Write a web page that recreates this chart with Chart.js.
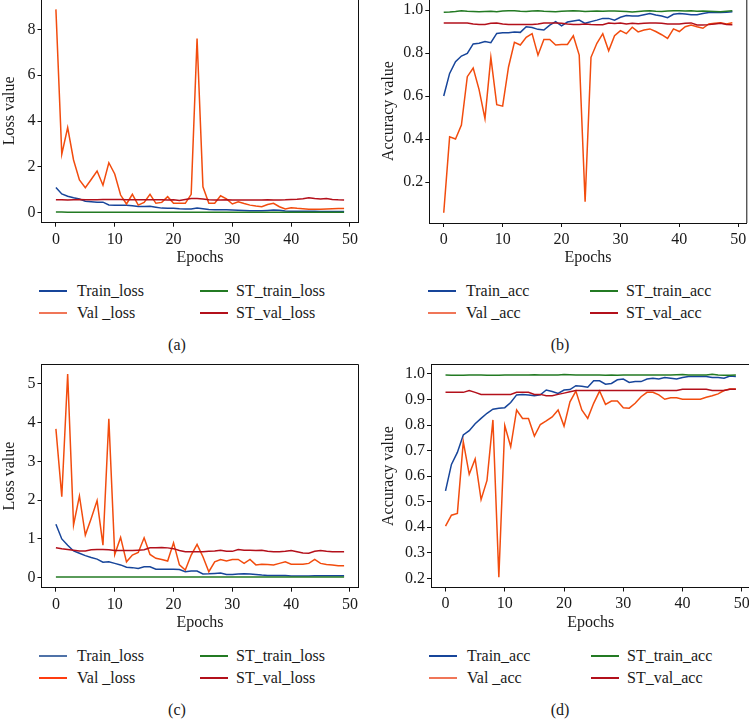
<!DOCTYPE html>
<html><head><meta charset="utf-8">
<script src="https://cdn.jsdelivr.net/npm/chart.js@4.4.1/dist/chart.umd.min.js"></script>
<style>
html,body{margin:0;padding:0;background:#fff;overflow:hidden;width:749px;height:719px;position:relative}
canvas{position:absolute}
.leg{position:absolute;font:16px "Liberation Serif",serif;color:#1a1a1a;white-space:nowrap;line-height:20px;height:20px;width:200px}
.leg .ln{position:absolute;left:0;top:9px;width:28px;height:2px}
.leg .tx{position:absolute;top:0}
.cap{position:absolute;font:16px "Liberation Serif",serif;color:#1a1a1a;transform:translate(-50%,-50%);white-space:nowrap}
</style></head><body>
<canvas id="ca" width="362" height="272" style="left:0px;top:-2px"></canvas>
<canvas id="cb" width="379" height="272" style="left:370px;top:-2px"></canvas>
<canvas id="cc" width="362" height="280" style="left:0px;top:355px"></canvas>
<canvas id="cd" width="384" height="280" style="left:370px;top:355px"></canvas>
<div id="legends"></div>
<script>
const epochs=[0,1,2,3,4,5,6,7,8,9,10,11,12,13,14,15,16,17,18,19,20,21,22,23,24,25,26,27,28,29,30,31,32,33,34,35,36,37,38,39,40,41,42,43,44,45,46,47,48,49];
const xTicks=[0,10,20,30,40,50];
const lossTicksA=[0,2,4,6,8];
const lossTicksC=[0,1,2,3,4,5];
const accTicksB=[0.2,0.4,0.6,0.8,1.0];
const accTicksD=[0.2,0.3,0.4,0.5,0.6,0.7,0.8,0.9,1.0];
const lossNames=['Train_loss','Val _loss','ST_train_loss','ST_val_loss'];
const accNames=['Train_acc','Val _acc','ST_train_acc','ST_val_acc'];
const captions=['(a)','(b)','(c)','(d)'];

// (a) loss, model 1
const aTrain=[1.10,0.82,0.72,0.65,0.60,0.50,0.48,0.46,0.46,0.34,0.33,0.33,0.32,0.30,0.27,0.27,0.28,0.24,0.20,0.19,0.19,0.17,0.16,0.16,0.20,0.17,0.14,0.13,0.13,0.13,0.12,0.11,0.10,0.09,0.08,0.08,0.10,0.12,0.11,0.07,0.06,0.06,0.06,0.06,0.06,0.05,0.05,0.05,0.05,0.05];
const aVal=[8.87,2.55,3.71,2.30,1.43,1.09,1.45,1.82,1.20,2.18,1.69,0.77,0.38,0.80,0.33,0.45,0.80,0.41,0.45,0.70,0.41,0.41,0.41,0.80,7.60,1.13,0.41,0.41,0.74,0.60,0.38,0.48,0.40,0.33,0.29,0.26,0.36,0.41,0.26,0.16,0.22,0.19,0.17,0.15,0.15,0.15,0.16,0.17,0.18,0.18];
const aStTrain=[0.03,0.03,0.02,0.02,0.02,0.02,0.02,0.02,0.02,0.02,0.02,0.02,0.02,0.02,0.02,0.02,0.02,0.02,0.02,0.02,0.02,0.02,0.02,0.02,0.02,0.02,0.02,0.02,0.02,0.02,0.02,0.02,0.02,0.02,0.02,0.02,0.02,0.02,0.02,0.02,0.02,0.02,0.02,0.02,0.02,0.02,0.02,0.02,0.02,0.02];
const aStVal=[0.57,0.57,0.55,0.57,0.58,0.57,0.57,0.56,0.58,0.58,0.58,0.58,0.57,0.57,0.56,0.57,0.56,0.57,0.56,0.55,0.56,0.53,0.58,0.62,0.62,0.60,0.57,0.55,0.55,0.56,0.55,0.55,0.55,0.55,0.55,0.55,0.56,0.55,0.55,0.56,0.58,0.59,0.61,0.65,0.62,0.60,0.62,0.58,0.56,0.55];

// (b) accuracy, model 1
const bTrain=[0.600,0.705,0.760,0.786,0.798,0.842,0.845,0.853,0.848,0.891,0.894,0.894,0.898,0.896,0.922,0.919,0.910,0.907,0.930,0.946,0.926,0.944,0.949,0.953,0.938,0.946,0.953,0.961,0.961,0.953,0.966,0.974,0.972,0.972,0.978,0.984,0.977,0.972,0.964,0.980,0.984,0.981,0.978,0.978,0.984,0.988,0.988,0.988,0.990,0.992];
const bVal=[0.057,0.410,0.400,0.465,0.690,0.730,0.630,0.495,0.780,0.560,0.553,0.735,0.850,0.837,0.873,0.890,0.790,0.863,0.863,0.837,0.840,0.840,0.880,0.790,0.108,0.780,0.845,0.890,0.810,0.880,0.904,0.890,0.920,0.898,0.907,0.912,0.900,0.885,0.868,0.912,0.900,0.922,0.930,0.922,0.915,0.935,0.938,0.941,0.935,0.941];
const bStTrain=[0.990,0.991,0.993,0.996,0.994,0.993,0.992,0.993,0.994,0.992,0.995,0.997,0.996,0.994,0.993,0.995,0.996,0.994,0.993,0.992,0.994,0.995,0.996,0.995,0.993,0.994,0.995,0.994,0.995,0.995,0.994,0.993,0.991,0.993,0.995,0.996,0.994,0.993,0.995,0.996,0.997,0.995,0.996,0.994,0.995,0.994,0.993,0.992,0.994,0.996];
const bStVal=[0.940,0.940,0.940,0.940,0.940,0.935,0.933,0.933,0.938,0.940,0.935,0.933,0.933,0.933,0.933,0.933,0.935,0.940,0.940,0.940,0.938,0.935,0.933,0.933,0.935,0.933,0.932,0.932,0.940,0.937,0.940,0.935,0.938,0.936,0.938,0.940,0.940,0.938,0.935,0.935,0.935,0.938,0.940,0.930,0.930,0.932,0.935,0.938,0.933,0.932];

// (c) loss, model 2
const cTrain=[1.38,1.00,0.84,0.69,0.63,0.57,0.52,0.48,0.40,0.41,0.37,0.33,0.27,0.26,0.24,0.28,0.28,0.22,0.22,0.22,0.22,0.21,0.155,0.17,0.17,0.095,0.10,0.11,0.12,0.085,0.085,0.095,0.10,0.095,0.085,0.07,0.06,0.06,0.06,0.06,0.045,0.045,0.045,0.045,0.05,0.05,0.05,0.05,0.05,0.05];
const cVal=[3.84,2.09,5.26,1.36,2.11,1.10,1.53,1.99,0.84,4.10,0.60,1.04,0.41,0.585,0.65,1.03,0.60,0.50,0.47,0.43,0.90,0.33,0.20,0.585,0.86,0.54,0.155,0.41,0.47,0.43,0.47,0.47,0.37,0.47,0.33,0.35,0.34,0.33,0.37,0.41,0.35,0.35,0.35,0.37,0.47,0.37,0.34,0.33,0.31,0.31];
const cStTrain=[0.02,0.02,0.02,0.02,0.02,0.02,0.02,0.02,0.02,0.02,0.02,0.02,0.02,0.02,0.02,0.02,0.02,0.02,0.02,0.02,0.02,0.02,0.02,0.02,0.02,0.02,0.02,0.02,0.02,0.02,0.02,0.02,0.02,0.02,0.02,0.02,0.02,0.02,0.02,0.02,0.02,0.02,0.02,0.02,0.02,0.02,0.02,0.02,0.02,0.02];
const cStVal=[0.775,0.75,0.73,0.71,0.69,0.69,0.72,0.73,0.73,0.72,0.70,0.70,0.70,0.70,0.71,0.72,0.77,0.77,0.78,0.77,0.75,0.70,0.67,0.67,0.67,0.67,0.68,0.69,0.71,0.68,0.68,0.73,0.71,0.71,0.70,0.71,0.68,0.67,0.67,0.68,0.70,0.67,0.64,0.63,0.68,0.70,0.68,0.67,0.67,0.67];

// (d) accuracy, model 2
const dTrain=[0.542,0.646,0.693,0.761,0.778,0.805,0.826,0.846,0.862,0.866,0.868,0.888,0.918,0.920,0.918,0.915,0.918,0.937,0.931,0.924,0.937,0.939,0.954,0.952,0.948,0.973,0.973,0.960,0.963,0.977,0.980,0.967,0.970,0.970,0.980,0.983,0.980,0.986,0.983,0.980,0.986,0.990,0.990,0.990,0.990,0.986,0.986,0.983,0.992,0.990];
const dVal=[0.404,0.447,0.454,0.735,0.607,0.667,0.508,0.583,0.820,0.204,0.798,0.715,0.859,0.826,0.826,0.757,0.802,0.816,0.832,0.859,0.796,0.891,0.933,0.859,0.826,0.885,0.933,0.881,0.894,0.894,0.868,0.866,0.885,0.911,0.928,0.928,0.918,0.901,0.907,0.907,0.901,0.901,0.901,0.901,0.909,0.915,0.922,0.935,0.941,0.941];
const dStTrain=[0.996,0.995,0.995,0.995,0.996,0.996,0.996,0.995,0.995,0.995,0.996,0.996,0.996,0.996,0.996,0.997,0.996,0.996,0.996,0.996,0.998,0.997,0.996,0.996,0.996,0.996,0.996,0.995,0.996,0.995,0.996,0.996,0.996,0.996,0.996,0.996,0.996,0.996,0.996,0.997,0.998,0.996,0.996,0.996,0.996,0.999,0.996,0.995,0.995,0.996];
const dStVal=[0.928,0.928,0.928,0.928,0.935,0.928,0.920,0.920,0.920,0.920,0.920,0.920,0.928,0.928,0.928,0.920,0.920,0.915,0.915,0.920,0.925,0.930,0.935,0.935,0.935,0.935,0.935,0.935,0.935,0.935,0.935,0.935,0.935,0.935,0.935,0.935,0.935,0.935,0.935,0.935,0.940,0.940,0.940,0.940,0.940,0.935,0.935,0.935,0.940,0.940];

const COL={train:'#17459a',val:'#f24c0e',stTrain:'#237a23',stVal:'#b3101b'};
const FONT='"Liberation Serif", "Times New Roman", serif';
Chart.defaults.font.family=FONT;
Chart.defaults.font.size=16;
Chart.defaults.color='#1a1a1a';

const frame={id:'frame',afterDatasetsDraw(c){
  const a=c.chartArea,ctx=c.ctx;ctx.save();ctx.strokeStyle='#111';ctx.lineWidth=1;
  ctx.beginPath();ctx.moveTo(a.left,a.top);ctx.lineTo(a.right,a.top);ctx.lineTo(a.right,a.bottom);ctx.stroke();ctx.restore();}};

function zeroPad(s){s.paddingTop=0;s.paddingBottom=0;s.paddingLeft=0;s.paddingRight=0;}

function panel(id,box,series,yTitle,yTicks,yMin,yMax,dec){
  const ds=[
    {data:series[3],borderColor:COL.stVal},
    {data:series[2],borderColor:COL.stTrain},
    {data:series[1],borderColor:COL.val},
    {data:series[0],borderColor:COL.train}
  ].map(d=>Object.assign(d,{borderWidth:1.5,pointRadius:0,fill:false,tension:0}));
  new Chart(document.getElementById(id),{
    type:'line',
    data:{labels:epochs,datasets:ds},
    plugins:[frame],
    options:{
      responsive:false,animation:false,devicePixelRatio:1,
      layout:{padding:{top:box.padTop,right:box.padRight,left:0,bottom:0}},
      plugins:{legend:{display:false},tooltip:{enabled:false}},
      scales:{
        x:{type:'linear',min:-2.45,max:51.45,
          afterBuildTicks:s=>{s.ticks=xTicks.map(v=>({value:v}));},
          afterFit:s=>{s.height=box.xH;zeroPad(s);},
          grid:{display:true,drawOnChartArea:false,drawTicks:true,tickLength:4,color:'#111'},
          border:{display:true,color:'#111',width:1},
          ticks:{padding:3,maxRotation:0,autoSkip:false,color:'#1a1a1a',callback:v=>String(v)},
          title:{display:true,text:'Epochs',color:'#1a1a1a',padding:{top:0,bottom:box.xTitlePad}}},
        y:{type:'linear',min:yMin,max:yMax,
          afterBuildTicks:s=>{s.ticks=yTicks.map(v=>({value:v}));},
          afterFit:s=>{s.width=box.yW;zeroPad(s);},
          grid:{display:true,drawOnChartArea:false,drawTicks:true,tickLength:4,color:'#111'},
          border:{display:true,color:'#111',width:1},
          ticks:{padding:2,autoSkip:false,color:'#1a1a1a',callback:v=>Number(v).toFixed(dec)},
          title:{display:true,text:yTitle,color:'#1a1a1a',padding:{top:box.yTitlePad,bottom:0}}}
      }
    }
  });
}

panel('ca',{padTop:1,padRight:3.5,xH:47.3,yW:41.5,xTitlePad:2.4,yTitlePad:0.4},
  [aTrain,aVal,aStTrain,aStVal],'Loss value',lossTicksA,-0.436,9.322,0);
panel('cb',{padTop:1,padRight:2.2,xH:47,yW:59.3,xTitlePad:2.4,yTitlePad:9.4},
  [bTrain,bVal,bStTrain,bStVal],'Accuracy value',accTicksB,0.0093,1.0512,1);
panel('cc',{padTop:9.5,padRight:3.5,xH:47.3,yW:41.5,xTitlePad:2.4,yTitlePad:0.4},
  [cTrain,cVal,cStTrain,cStVal],'Loss value',lossTicksC,-0.258,5.503,0);
panel('cd',{padTop:9.5,padRight:3.6,xH:47.5,yW:61,xTitlePad:2.4,yTitlePad:9.4},
  [dTrain,dVal,dStTrain,dStVal],'Accuracy value',accTicksD,0.164,1.037,1);

// legends and captions (HTML text)
const legSpecs=[
  {names:lossNames,rows:[290.5,312.5],cols:[[39,77],[200,236]],colors:['#17459a','#f07658','#237a23','#b3101b']},
  {names:accNames,rows:[290.5,312.5],cols:[[428,466],[590,626]],colors:['#17459a','#f07658','#237a23','#b3101b']},
  {names:lossNames,rows:[655.5,677.5],cols:[[39,77],[200,236]],colors:['#4f72a8','#ff3c10','#237a23','#b3101b']},
  {names:accNames,rows:[655.5,677.5],cols:[[429,467],[591,627]],colors:['#17459a','#f07658','#237a23','#b3101b']}
];
const capPos=[[177,345],[560,345],[177,710],[560,710]];
const host=document.getElementById('legends');
legSpecs.forEach((L,p)=>{
  L.names.forEach((n,k)=>{
    const col=Math.floor(k/2),row=k%2;
    const d=document.createElement('div');d.className='leg';
    d.style.left=L.cols[col][0]+'px';d.style.top=Math.round(L.rows[row]-10)+'px';
    const ln=document.createElement('div');ln.className='ln';ln.style.background=L.colors[k];d.appendChild(ln);
    const s=document.createElement('div');s.className='tx';s.style.left=(L.cols[col][1]-L.cols[col][0])+'px';s.textContent=n;d.appendChild(s);
    host.appendChild(d);
  });
  const c=document.createElement('div');c.className='cap';c.textContent=captions[p];
  c.style.left=capPos[p][0]+'px';c.style.top=capPos[p][1]+'px';host.appendChild(c);
});
</script>
</body></html>
